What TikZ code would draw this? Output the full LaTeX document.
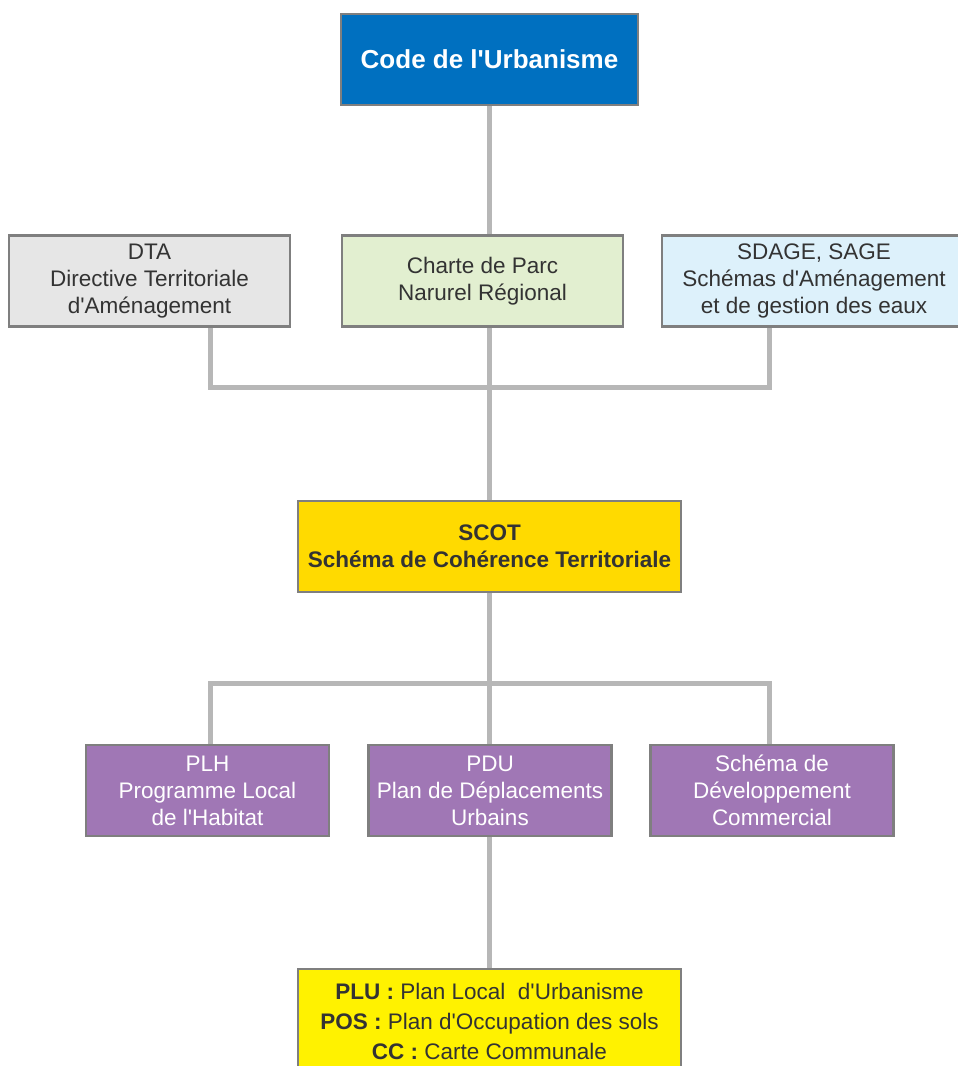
\documentclass[tikz,border=0pt]{standalone}
\usepackage{fontspec}
\setmainfont{Liberation Sans}
\usetikzlibrary{backgrounds}

\definecolor{edge}{HTML}{7F7F7F}
\definecolor{wire}{HTML}{B7B7B7}
\definecolor{ink}{HTML}{333333}
\definecolor{codeblue}{HTML}{0070C0}
\definecolor{dtagray}{HTML}{E6E6E6}
\definecolor{parcgreen}{HTML}{E2EFD0}
\definecolor{eaublue}{HTML}{DDF1FB}
\definecolor{scotgold}{HTML}{FFDA00}
\definecolor{plumauve}{HTML}{A077B5}
\definecolor{pluyellow}{HTML}{FFF200}

\begin{document}
\begin{tikzpicture}[x=1pt, y=-1pt,
  box/.style={draw=edge, line width=2.5pt, align=center, inner sep=0pt,
    minimum height=91pt, text=ink, font=\fontsize{22.5}{27}\selectfont},
  mauve/.style={box, fill=plumauve, text=white, minimum width=243pt},
  link/.style={draw=wire, line width=5pt}]
  \useasboundingbox (0,0) rectangle (958,1066);

  \node[box, fill=codeblue, text=white, minimum width=297pt,
    font=\bfseries\fontsize{26}{30}\selectfont] (code) at (489.5,59.5)
    {Code de l\textquotesingle Urbanisme};

  \node[box, fill=dtagray, minimum width=281pt] (dta) at (149.5,281)
    {DTA\\Directive Territoriale\\d\textquotesingle Aménagement};
  \node[box, fill=parcgreen, minimum width=281pt] (parc) at (482.5,281)
    {Charte de Parc\\Narurel Régional};
  \node[box, fill=eaublue, minimum width=304pt] (sage) at (814,281)
    {SDAGE, SAGE\\Schémas d\textquotesingle Aménagement\\et de gestion des eaux};

  \node[box, fill=scotgold, minimum width=383pt,
    font=\bfseries\fontsize{22.5}{27}\selectfont] (scot) at (489.5,546.5)
    {SCOT\\Schéma de Cohérence Territoriale};

  \node[mauve] (plh) at (207.5,790.5) {PLH\\Programme Local\\de l\textquotesingle Habitat};
  \node[mauve] (pdu) at (490,790.5) {PDU\\Plan de Déplacements\\Urbains};
  \node[mauve] (sdc) at (772,790.5) {Schéma de\\Développement\\Commercial};

  \node[box, fill=pluyellow, minimum width=383pt, minimum height=104pt,
    font=\fontsize{22.5}{30}\selectfont] (plu) at (489.5,1021)
    {\textbf{PLU :} Plan Local\ \ d\textquotesingle Urbanisme\\
     \textbf{POS :} Plan d\textquotesingle Occupation des sols\\
     \textbf{CC :} Carte Communale};

  % bus bars
  \coordinate (b1l) at (210,387);
  \coordinate (b1r) at (769.5,387);
  \coordinate (b2l) at (210,683);
  \coordinate (b2r) at (769.5,683);

  \begin{scope}[on background layer]
    \fill[white] (0,0) rectangle (958,1066);
    \draw[link] (code) -- (code |- parc.center);
    \draw[link] (code |- parc.center) -- (code |- scot.center);
    \draw[link] (b1l |- dta.center) -- (b1l) -- (b1r) -- (b1r |- sage.center);
    \draw[link] (scot) -- (scot |- pdu.center);
    \draw[link] (b2l |- plh.center) -- (b2l) -- (b2r) -- (b2r |- sdc.center);
    \draw[link] (scot |- pdu.center) -- (scot |- plu.center);
  \end{scope}
\end{tikzpicture}
\end{document}
